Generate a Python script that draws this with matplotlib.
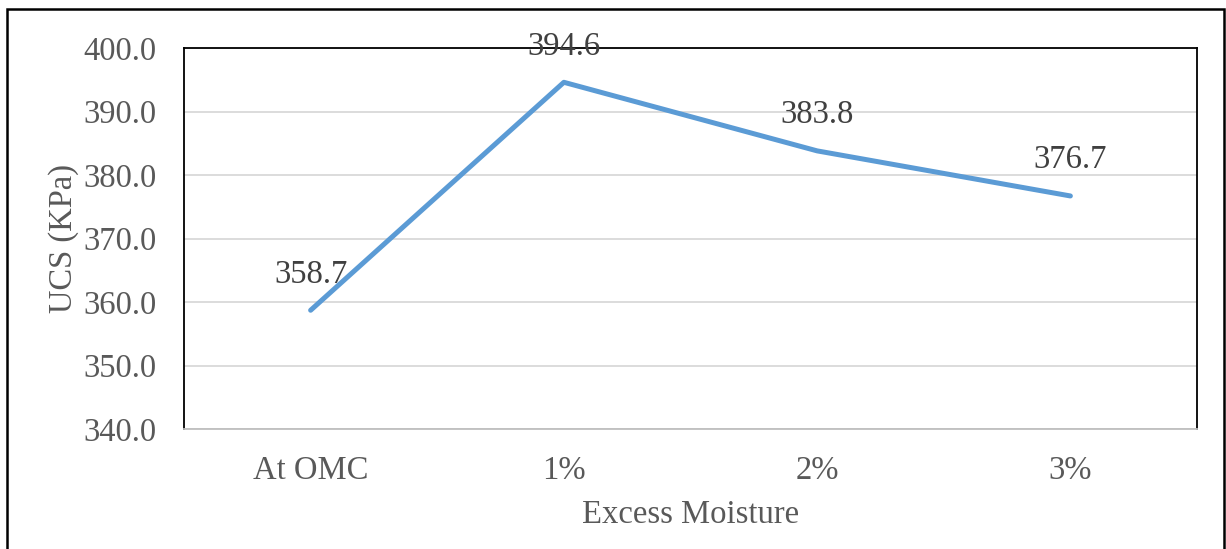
import matplotlib.pyplot as plt
from matplotlib.patches import Rectangle

categories = ['At OMC', '1%', '2%', '3%']
ucs = [358.7, 394.6, 383.8, 376.7]
yticks = [340, 350, 360, 370, 380, 390, 400]

plt.rcParams['font.family'] = ['Liberation Serif', 'DejaVu Serif']

W, H = 1226, 549
fs = 23.5
fig = plt.figure(figsize=(W / 100, H / 100), dpi=100)
ax = fig.add_axes([184 / W, 1 - 429 / H, (1197 - 184) / W, (429 - 48) / H])

x = list(range(len(categories)))
ax.plot(x, ucs, color='#5B9BD5', linewidth=3.6, solid_capstyle='round', zorder=3)
for xi, v in zip(x, ucs):
    ax.annotate(f'{v:.1f}', (xi, v), xytext=(0, 36), textcoords='offset pixels',
                ha='center', va='center', fontsize=fs, color='#404040')

ax.set_xlim(-0.5, len(categories) - 0.5)
ax.set_ylim(340, 400)
ax.set_yticks(yticks)
ax.set_yticklabels([f'{t:.1f}' for t in yticks])
ax.set_xticks(x)
ax.set_xticklabels(categories)
ax.tick_params(axis='both', length=0, labelsize=fs, labelcolor='#595959')
ax.tick_params(axis='y', pad=20)
ax.tick_params(axis='x', pad=19)
ax.grid(axis='y', color='#D9D9D9', linewidth=1.3)
ax.set_axisbelow(True)

for side in ['top', 'left', 'right']:
    ax.spines[side].set_color('black')
    ax.spines[side].set_linewidth(1.3)
ax.spines['bottom'].set_color('#BFBFBF')
ax.spines['bottom'].set_linewidth(1.3)

ax.set_xlabel('Excess Moisture', fontsize=fs, color='#595959', labelpad=10)
ax.set_ylabel('UCS (KPa)', fontsize=fs, color='#595959', labelpad=3)

# frame around the whole chart
fig.patches.append(Rectangle((7 / W, -0.05), (1224 - 7) / W, 1.05 - 9 / H,
                             transform=fig.transFigure, fill=False,
                             edgecolor='black', linewidth=1.8))

fig.savefig('out.png', dpi=100)
